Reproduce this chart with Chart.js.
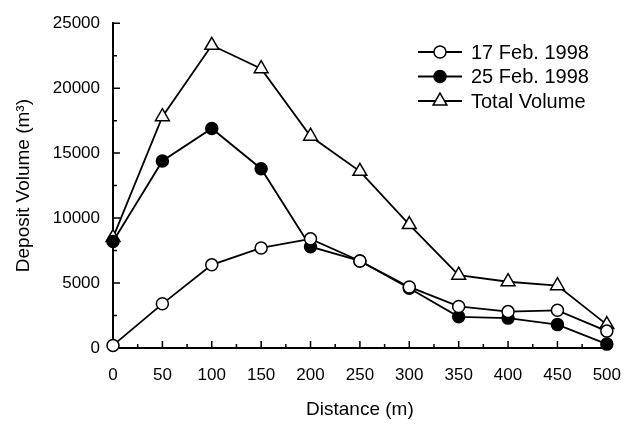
<!DOCTYPE html>
<html>
<head>
<meta charset="utf-8">
<script src="https://cdn.jsdelivr.net/npm/chart.js@4.4.1/dist/chart.umd.min.js"></script>
<style>
    html, body { margin: 0; padding: 0; background: #fff; }
    #wrap { width: 638px; height: 425px; position: relative; }
</style>
</head>
<body>
<div id="wrap"><canvas id="depositChart"></canvas></div>
<script>
    // ===== DATA =====
    const distances = [0, 50, 100, 150, 200, 250, 300, 350, 400, 450, 500];
    const feb17 = [200, 3400, 6400, 7700, 8400, 6700, 4700, 3200, 2800, 2900, 1300];
    const feb25 = [8200, 14400, 16900, 13800, 7800, 6700, 4600, 2400, 2300, 1800, 300];
    const totalVolume = [8500, 17800, 23300, 21500, 16300, 13600, 9500, 5600, 5100, 4800, 1800];
    const seriesLabels = ['17 Feb. 1998', '25 Feb. 1998', 'Total Volume'];
    const yTicks = [0, 5000, 10000, 15000, 20000, 25000];
    const xTicks = [0, 50, 100, 150, 200, 250, 300, 350, 400, 450, 500];

    const FONT = '"Liberation Sans", Arial, Helvetica, sans-serif';

    function toPoints(values) {
        return values.map(function(v, i) { return { x: distances[i], y: v }; });
    }

    // inward tick marks (major + minor) on both axes
    const tickMarks = {
        id: 'tickMarks',
        beforeDatasetsDraw: function(chart) {
            const ctx = chart.ctx;
            const xs = chart.scales.x, ys = chart.scales.y;
            const area = chart.chartArea;
            ctx.save();
            ctx.strokeStyle = '#000';
            ctx.lineWidth = 1.5;
            ctx.beginPath();
            for (let v = xs.min + 25; v <= xs.max; v += 25) {
                const px = xs.getPixelForValue(v);
                const len = v % 50 === 0 ? 7 : 4;
                ctx.moveTo(px, area.bottom);
                ctx.lineTo(px, area.bottom - len);
            }
            for (let v = ys.min + 2500; v <= ys.max; v += 2500) {
                const py = ys.getPixelForValue(v);
                const len = v % 5000 === 0 ? 7 : 4;
                ctx.moveTo(area.left, py);
                ctx.lineTo(area.left + len, py);
            }
            ctx.stroke();
            ctx.restore();
        }
    };

    // legend drawn inside the plot, top right
    const insideLegend = {
        id: 'insideLegend',
        afterDraw: function(chart) {
            const ctx = chart.ctx;
            ctx.save();
            chart.data.datasets.forEach(function(ds, i) {
                const y = 52 + i * 24.5;
                ctx.strokeStyle = '#000';
                ctx.lineWidth = 1.8;
                ctx.beginPath();
                ctx.moveTo(418, y);
                ctx.lineTo(462, y);
                ctx.stroke();
                ctx.fillStyle = ds.pointBackgroundColor;
                ctx.strokeStyle = '#000';
                ctx.lineWidth = 1.5;
                Chart.helpers.drawPoint(ctx, {
                    pointStyle: ds.pointStyle,
                    radius: ds.pointRadius,
                    borderWidth: 1.5,
                    rotation: 0
                }, 440, y);
                ctx.fillStyle = '#000';
                ctx.font = '20px ' + FONT;
                ctx.textAlign = 'left';
                ctx.textBaseline = 'middle';
                ctx.fillText(ds.label, 471, y + 1);
            });
            ctx.restore();
        }
    };

    function makeSet(label, values, style, fill, radius) {
        return {
            label: label,
            data: toPoints(values),
            borderColor: '#000',
            borderWidth: 1.8,
            pointStyle: style,
            pointRadius: radius,
            pointHoverRadius: radius,
            pointBackgroundColor: fill,
            pointBorderColor: '#000',
            pointBorderWidth: 1.5,
            tension: 0,
            fill: false,
            clip: false
        };
    }

    new Chart(document.getElementById('depositChart'), {
        type: 'line',
        data: {
            datasets: [
                makeSet(seriesLabels[0], feb17, 'circle', '#fff', 6),
                makeSet(seriesLabels[1], feb25, 'circle', '#000', 6),
                makeSet(seriesLabels[2], totalVolume, 'triangle', '#fff', 8)
            ]
        },
        options: {
            responsive: true,
            maintainAspectRatio: false,
            animation: false,
            layout: { padding: { top: 18, right: 29, left: 0, bottom: 0 } },
            plugins: {
                legend: { display: false },
                tooltip: { enabled: false }
            },
            scales: {
                x: {
                    type: 'linear',
                    min: 0,
                    max: 500,
                    afterFit: function(scale) { scale.height = 77; },
                    afterBuildTicks: function(scale) {
                        scale.ticks = xTicks.map(function(v) { return { value: v }; });
                    },
                    grid: { display: true, drawOnChartArea: false, drawTicks: false },
                    border: { display: true, color: '#000', width: 2 },
                    ticks: {
                        color: '#000',
                        padding: 17,
                        maxRotation: 0,
                        font: { family: FONT, size: 17 },
                        callback: function(v) { return String(v); }
                    },
                    title: {
                        display: true,
                        text: 'Distance (m)',
                        color: '#000',
                        padding: { top: 0, bottom: 4 },
                        font: { family: FONT, size: 19 }
                    }
                },
                y: {
                    min: 0,
                    max: 25000,
                    afterFit: function(scale) { scale.width = 113; },
                    afterBuildTicks: function(scale) {
                        scale.ticks = yTicks.map(function(v) { return { value: v }; });
                    },
                    grid: { display: true, drawOnChartArea: false, drawTicks: false },
                    border: { display: true, color: '#000', width: 2 },
                    ticks: {
                        color: '#000',
                        padding: 13,
                        font: { family: FONT, size: 17 },
                        callback: function(v) { return String(v); }
                    },
                    title: {
                        display: true,
                        text: 'Deposit Volume (m³)',
                        color: '#000',
                        padding: { top: 12, bottom: 0 },
                        font: { family: FONT, size: 19 }
                    }
                }
            }
        },
        plugins: [tickMarks, insideLegend]
    });
</script>
</body>
</html>
